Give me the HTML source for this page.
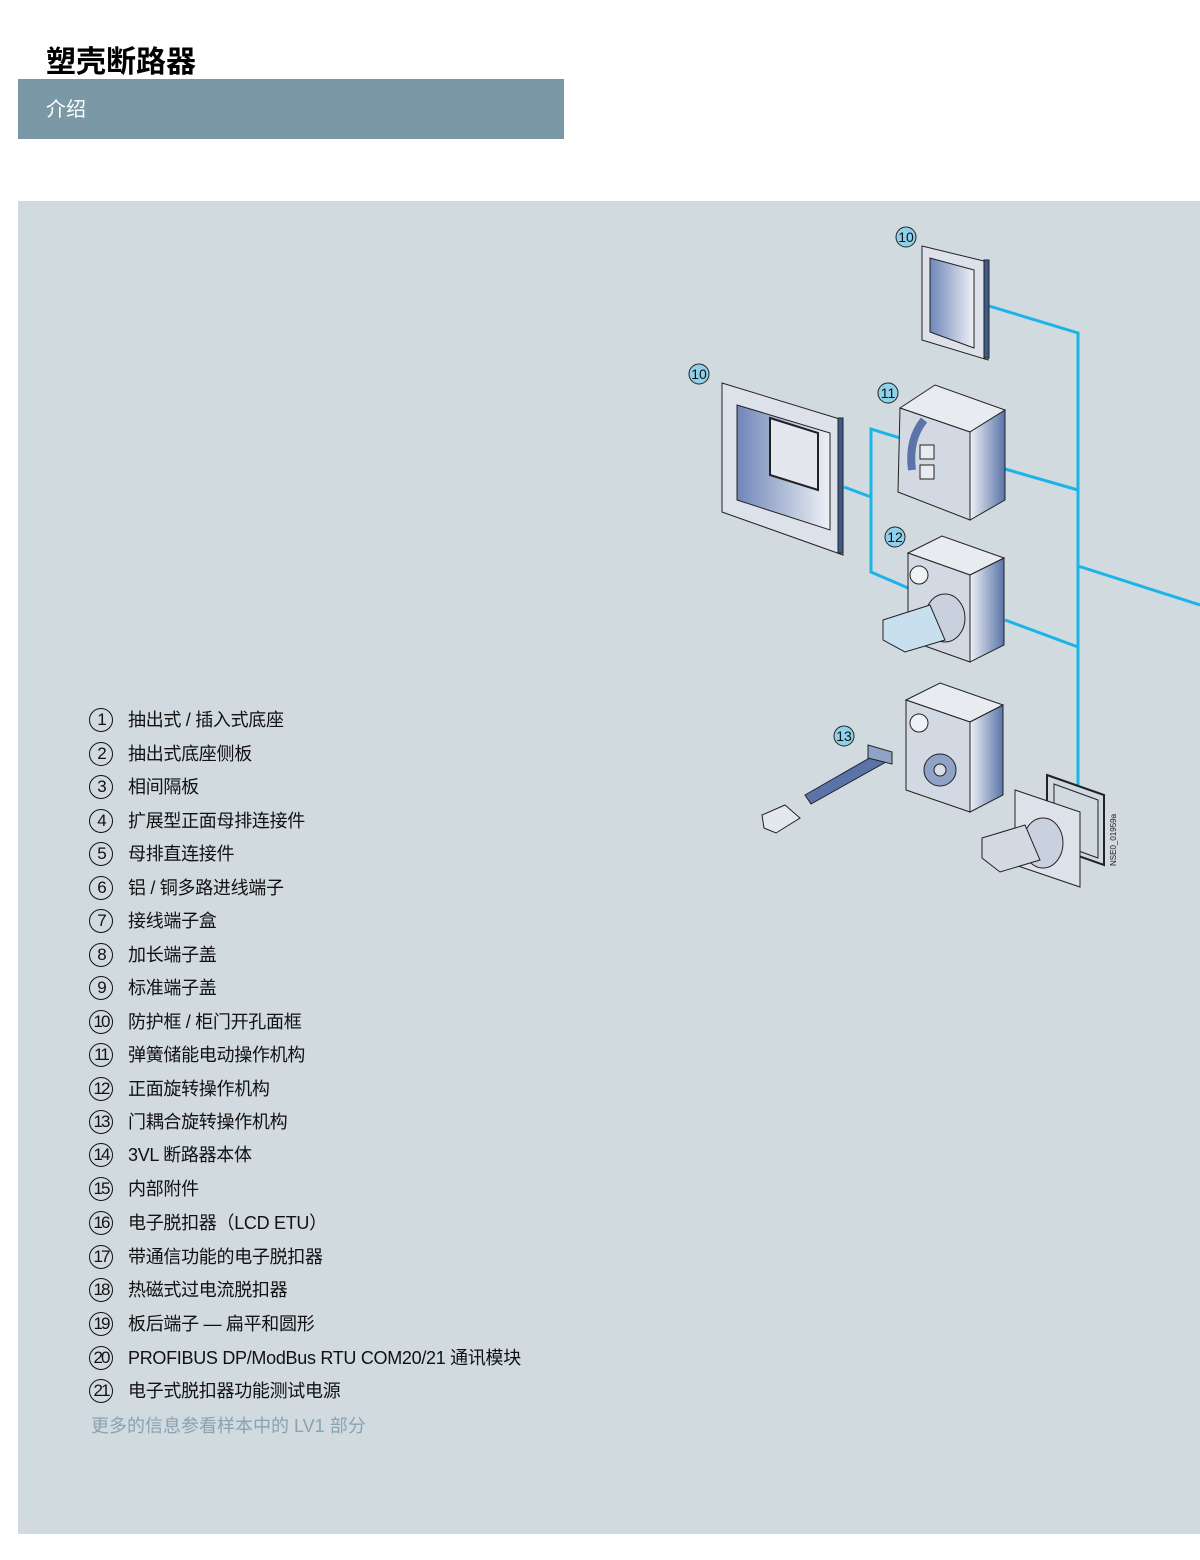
<!DOCTYPE html>
<html><head><meta charset="utf-8"><style>
*{margin:0;padding:0;box-sizing:border-box}
body{width:1200px;height:1560px;background:#fff;position:relative;overflow:hidden;font-family:"Liberation Sans","Noto Sans CJK SC",sans-serif}
.t{position:absolute;left:46px;top:43px;font-size:30px;font-weight:bold;color:#000;line-height:40px}
.bar{position:absolute;left:18px;top:79px;width:546px;height:60px;background:#7b98a6}
.bar span{position:absolute;left:28px;top:17px;color:#fff;font-size:20px;line-height:28px}
.panel{position:absolute;left:18px;top:201px;width:1182px;height:1333px;background:#d0dadf}
.it{position:absolute;left:89px;height:24px;font-size:18px;line-height:24px;color:#111}
.it i{position:absolute;left:0;top:0;width:24px;height:24px;border:1.6px solid #111;border-radius:50%;font-style:normal;text-align:center;font-size:17px;line-height:21px;letter-spacing:-2px}
.it b{position:absolute;left:39px;top:0;font-weight:normal;white-space:nowrap;letter-spacing:-0.3px}
.more{position:absolute;left:91px;top:1412px;font-size:18px;color:#8aa3b2;white-space:nowrap}
</style></head><body>
<div class="t">塑壳断路器</div>
<div class="bar"><span>介绍</span></div>
<div class="panel"></div>
<div class="it" style="top:708px"><i>1</i><b>抽出式 / 插入式底座</b></div>
<div class="it" style="top:742px"><i>2</i><b>抽出式底座侧板</b></div>
<div class="it" style="top:775px"><i>3</i><b>相间隔板</b></div>
<div class="it" style="top:809px"><i>4</i><b>扩展型正面母排连接件</b></div>
<div class="it" style="top:842px"><i>5</i><b>母排直连接件</b></div>
<div class="it" style="top:876px"><i>6</i><b>铝 / 铜多路进线端子</b></div>
<div class="it" style="top:909px"><i>7</i><b>接线端子盒</b></div>
<div class="it" style="top:943px"><i>8</i><b>加长端子盖</b></div>
<div class="it" style="top:976px"><i>9</i><b>标准端子盖</b></div>
<div class="it" style="top:1010px"><i>10</i><b>防护框 / 柜门开孔面框</b></div>
<div class="it" style="top:1043px"><i>11</i><b>弹簧储能电动操作机构</b></div>
<div class="it" style="top:1077px"><i>12</i><b>正面旋转操作机构</b></div>
<div class="it" style="top:1110px"><i>13</i><b>门耦合旋转操作机构</b></div>
<div class="it" style="top:1143px"><i>14</i><b>3VL 断路器本体</b></div>
<div class="it" style="top:1177px"><i>15</i><b>内部附件</b></div>
<div class="it" style="top:1211px"><i>16</i><b>电子脱扣器（LCD ETU）</b></div>
<div class="it" style="top:1245px"><i>17</i><b>带通信功能的电子脱扣器</b></div>
<div class="it" style="top:1278px"><i>18</i><b>热磁式过电流脱扣器</b></div>
<div class="it" style="top:1312px"><i>19</i><b>板后端子 — 扁平和圆形</b></div>
<div class="it" style="top:1346px"><i>20</i><b>PROFIBUS DP/ModBus RTU COM20/21 通讯模块</b></div>
<div class="it" style="top:1379px"><i>21</i><b>电子式脱扣器功能测试电源</b></div>
<div class="more">更多的信息参看样本中的 LV1 部分</div>

<svg width="1200" height="1560" style="position:absolute;left:0;top:0" xmlns="http://www.w3.org/2000/svg">
<defs>
<linearGradient id="g" x1="0" x2="1"><stop offset="0" stop-color="#eef1f6"/><stop offset="1" stop-color="#5a73a8"/></linearGradient>
<linearGradient id="g2" x1="0" x2="1"><stop offset="0" stop-color="#6f86b8"/><stop offset="1" stop-color="#eef1f6"/></linearGradient>
</defs>
<g stroke="#1ab4e8" stroke-width="3" fill="none">
<polyline points="989,306 1078,333 1078,787"/>
<line x1="1005" y1="469" x2="1078" y2="490"/>
<line x1="1078" y1="566" x2="1200" y2="605"/>
<line x1="1005" y1="620" x2="1078" y2="647"/>
<line x1="844" y1="487" x2="871" y2="497"/>
<polyline points="900,438 871,429 871,572 908,588"/>
</g>
<g stroke="#222" stroke-width="1">
<polygon points="922,246 988,262 988,360 922,340" fill="#dde2ea"/>
<polygon points="930,258 974,270 974,348 930,332" fill="url(#g2)"/>
<rect x="984" y="260" width="5" height="98" fill="#3d5a8a"/>
<polygon points="722,383 843,420 843,555 722,512" fill="#dde2ea"/>
<polygon points="737,405 830,433 830,530 737,500" fill="url(#g2)"/>
<polygon points="770,418 818,433 818,490 770,475" fill="#e4e8ee" stroke-width="2"/>
<rect x="838" y="418" width="5" height="135" fill="#3d5a8a"/>
<polygon points="900,408 935,385 1005,410 970,432" fill="#e8ebf0"/>
<polygon points="970,432 1005,410 1005,500 970,520" fill="url(#g)"/>
<polygon points="900,408 970,432 970,520 898,492" fill="#d3d9e3"/>
<path d="M912,470 q-4,-30 12,-50" stroke="#5a73a8" stroke-width="8" fill="none"/>
<rect x="920" y="445" width="14" height="14" fill="#e8ebf0"/>
<rect x="920" y="465" width="14" height="14" fill="#e8ebf0"/>
<polygon points="908,553 942,536 1004,558 970,575" fill="#e8ebf0"/>
<polygon points="970,575 1004,558 1004,645 970,662" fill="url(#g)"/>
<polygon points="908,553 970,575 970,662 908,640" fill="#d3d9e3"/>
<circle cx="919" cy="575" r="9" fill="#eef1f5"/>
<ellipse cx="945" cy="618" rx="20" ry="24" fill="#c9d1de"/>
<polygon points="883,620 930,605 945,640 905,652 883,640" fill="#c8e0ee"/>
<polygon points="906,700 940,683 1003,705 970,722" fill="#e8ebf0"/>
<polygon points="970,722 1003,705 1003,795 970,812" fill="url(#g)"/>
<polygon points="906,700 970,722 970,812 906,790" fill="#d3d9e3"/>
<circle cx="919" cy="723" r="9" fill="#eef1f5"/>
<circle cx="940" cy="770" r="16" fill="#8fa3c6"/>
<circle cx="940" cy="770" r="6" fill="#d8dde6"/>
<polygon points="1047,775 1104,795 1104,865 1047,845" fill="#cfd7df" stroke-width="2"/>
<polygon points="1054,784 1098,800 1098,858 1054,842" fill="#d0dadf"/>
<polygon points="1015,790 1080,812 1080,887 1015,865" fill="#dde2ea"/>
<ellipse cx="1043" cy="843" rx="20" ry="25" fill="#c9d1de"/>
<polygon points="982,838 1025,825 1040,860 1000,872 982,858" fill="#d3d9e3"/>
<polygon points="805,795 880,752 886,762 811,804" fill="#5a73a8"/>
<polygon points="868,745 892,752 892,764 868,758" fill="#8fa3c6"/>
<polygon points="762,815 785,805 800,818 776,833 764,828" fill="#e3e7ee"/>
</g>
<g font-size="14" fill="#111" text-anchor="middle">
<circle cx="906" cy="237" r="10" fill="#8fd0ea" stroke="#222"/><text x="906" y="242">10</text>
<circle cx="699" cy="374" r="10" fill="#8fd0ea" stroke="#222"/><text x="699" y="379">10</text>
<circle cx="888" cy="393" r="10" fill="#8fd0ea" stroke="#222"/><text x="888" y="398">11</text>
<circle cx="895" cy="537" r="10" fill="#8fd0ea" stroke="#222"/><text x="895" y="542">12</text>
<circle cx="844" cy="736" r="10" fill="#8fd0ea" stroke="#222"/><text x="844" y="741">13</text>
</g>
<text x="1116" y="866" font-size="8" fill="#222" transform="rotate(-90 1116 866)">NSE0_01959a</text>
</svg>
</body></html>
